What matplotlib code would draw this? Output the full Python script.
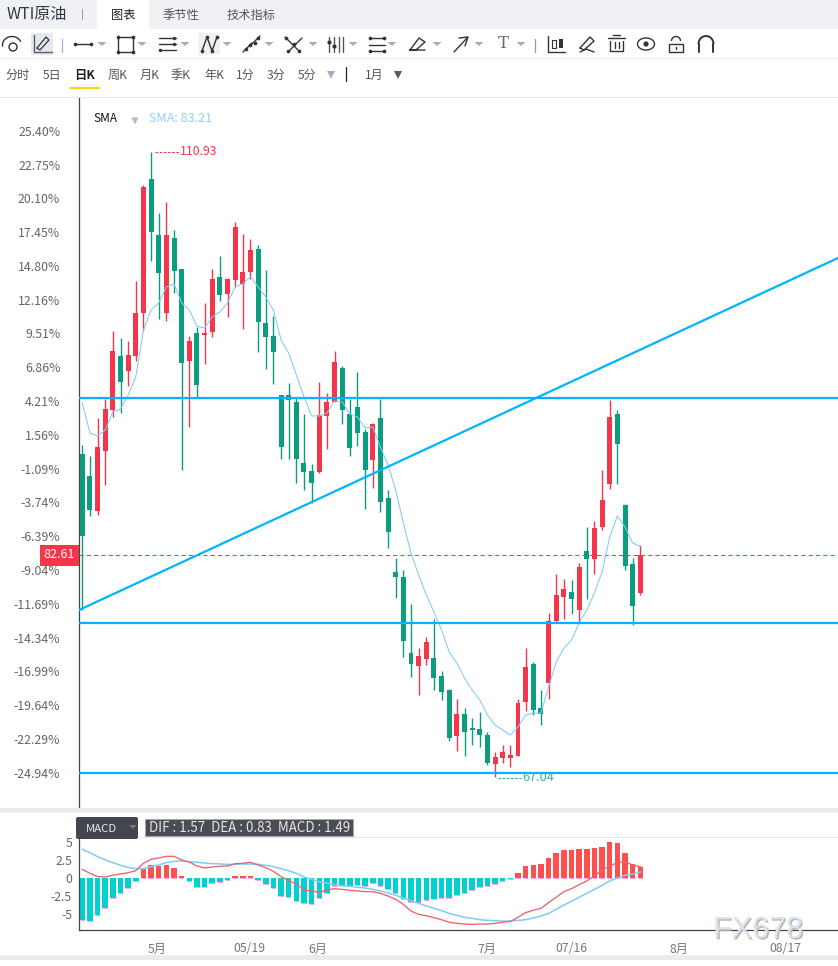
import matplotlib
matplotlib.use("Agg")
import matplotlib.pyplot as plt
import matplotlib.patheffects as pe
from matplotlib.patches import Rectangle, FancyBboxPatch, Circle, Arc, Polygon
from matplotlib.transforms import ScaledTranslation

plt.rcParams['font.family'] = ['Noto Sans CJK SC', 'DejaVu Sans']

W, H = 838, 966
RED = '#f5364a'
GREEN = '#0c9d7e'
CYAN = '#00b4ff'
SMA_BLUE = '#7fcbf8'
GREY = '#666666'

# daily candles
opens = [89.70, 88.16, 85.70, 89.91, 92.79, 96.59, 95.53, 96.59, 99.61, 109.02,
         105.09, 99.61, 104.88, 102.70, 96.24, 98.20, 98.06, 98.27, 102.14, 100.94,
         101.93, 101.65, 102.49, 104.11, 98.91, 97.99, 93.85, 93.85, 93.36, 89.07,
         88.51, 88.44, 92.37, 93.36, 95.74, 92.51, 93.00, 91.25, 89.28, 92.23,
         86.61, 81.41, 81.06, 75.72, 74.81, 75.30, 75.37, 74.10, 73.12, 69.89,
         71.43, 70.45, 70.38, 69.96, 67.92, 68.34, 68.34, 68.48, 72.28, 74.95,
         71.86, 73.61, 77.97, 79.65, 80.01, 78.74, 82.89, 82.32, 84.57, 87.59,
         92.51, 86.12, 81.97, 79.94]
highs = [90.33, 89.56, 92.23, 93.57, 98.34, 97.85, 97.64, 101.86, 108.60, 110.93,
         106.63, 107.41, 105.44, 102.70, 97.99, 98.62, 100.31, 102.70, 103.61, 102.07,
         106.00, 105.16, 104.81, 104.39, 102.63, 99.40, 93.85, 94.69, 93.64, 92.51,
         89.00, 94.76, 93.99, 96.94, 95.88, 93.57, 95.46, 91.46, 91.88, 93.57,
         87.17, 82.39, 81.55, 79.16, 76.07, 76.84, 78.11, 74.46, 73.19, 72.49,
         71.86, 71.15, 71.57, 70.17, 68.76, 69.26, 69.26, 72.49, 76.07, 75.09,
         73.12, 78.53, 81.27, 80.92, 80.85, 82.04, 84.57, 84.99, 88.58, 93.50,
         92.79, 86.19, 82.39, 83.31]
lows = [78.74, 85.35, 85.42, 87.52, 92.30, 92.58, 94.48, 96.24, 98.34, 103.26,
        99.19, 99.05, 101.01, 88.58, 91.60, 93.64, 96.03, 97.92, 100.45, 99.33,
        101.44, 98.48, 102.00, 96.87, 95.67, 94.62, 89.35, 89.35, 87.66, 87.17,
        86.26, 88.37, 90.05, 93.36, 91.81, 89.56, 90.26, 85.84, 87.31, 85.63,
        83.10, 79.58, 75.44, 74.03, 72.77, 74.88, 73.12, 72.42, 69.54, 68.83,
        68.48, 69.26, 69.12, 67.85, 67.04, 67.99, 67.71, 68.48, 71.65, 71.36,
        70.66, 72.49, 77.90, 78.11, 78.46, 77.90, 79.51, 81.27, 84.36, 87.24,
        87.59, 81.55, 77.69, 79.80]
closes = [83.94, 85.77, 90.19, 92.86, 96.94, 94.76, 96.66, 99.61, 108.46, 105.30,
          102.42, 105.09, 102.56, 96.10, 97.64, 94.55, 98.20, 102.00, 100.87, 102.00,
          105.65, 102.49, 104.03, 98.98, 97.92, 96.87, 90.19, 93.50, 89.35, 88.44,
          87.66, 92.44, 93.36, 96.17, 92.79, 90.12, 91.18, 88.58, 91.81, 86.33,
          84.22, 81.06, 76.56, 74.95, 75.51, 76.49, 73.96, 72.98, 69.75, 71.43,
          70.17, 70.31, 69.96, 67.99, 68.41, 68.76, 68.55, 72.21, 74.74, 71.72,
          71.43, 77.97, 79.80, 80.22, 79.51, 81.76, 82.32, 84.50, 86.47, 92.30,
          90.40, 81.83, 79.02, 82.61]
sma = [93.29, 91.18, 90.97, 91.39, 92.65, 92.86, 93.85, 95.11, 98.41, 99.82,
       100.31, 101.44, 101.65, 100.31, 99.82, 98.69, 98.55, 99.33, 99.68, 100.31,
       101.44, 101.65, 102.14, 101.44, 100.73, 99.82, 97.71, 96.80, 95.25, 93.71,
       92.37, 92.37, 92.58, 93.43, 93.36, 92.51, 92.30, 91.53, 91.60, 90.19,
       88.93, 87.17, 84.85, 82.75, 81.20, 79.80, 78.60, 77.34, 75.79, 75.02,
       73.96, 73.12, 72.42, 71.36, 70.66, 70.31, 69.96, 70.52, 71.36, 71.50,
       71.50, 73.33, 75.09, 76.07, 76.63, 77.83, 78.74, 79.94, 81.41, 83.87,
       85.35, 84.57, 83.45, 83.21]

# MACD panel
hist = [-5.92, -6.06, -5.26, -4.23, -2.82, -2.11, -1.41, -0.47, 1.27, 1.83,
        1.69, 1.83, 1.41, 0.28, -0.42, -1.22, -1.27, -0.70, -0.56, -0.28,
        0.28, 0.28, 0.28, -0.28, -0.89, -1.41, -2.54, -2.68, -3.24, -3.52,
        -3.62, -2.82, -2.11, -1.13, -1.03, -1.13, -0.99, -1.13, -0.70, -1.17,
        -1.55, -2.16, -2.96, -3.38, -3.43, -3.10, -2.96, -2.82, -2.86, -2.44,
        -2.16, -1.69, -1.31, -1.17, -0.85, -0.42, -0.09, 0.70, 1.69, 1.83,
        1.97, 2.82, 3.52, 3.94, 3.94, 4.08, 4.08, 4.23, 4.37, 5.07,
        4.93, 3.52, 1.97, 1.49]
dif = [1.22, 0.66, 0.19, 0.14, 0.38, 0.56, 0.75, 1.03, 2.07, 2.63,
       2.82, 3.05, 3.05, 2.54, 2.25, 1.69, 1.41, 1.55, 1.64, 1.69,
       2.02, 2.07, 2.21, 1.83, 1.46, 0.94, 0.19, -0.38, -0.85, -1.69,
       -1.83, -2.02, -1.69, -1.50, -1.60, -1.74, -1.83, -1.92, -1.92, -2.16,
       -2.54, -3.00, -3.71, -4.65, -5.12, -5.31, -5.59, -5.87, -6.24, -6.38,
       -6.48, -6.53, -6.48, -6.48, -6.38, -6.24, -6.10, -5.54, -4.88, -4.55,
       -4.27, -3.47, -2.72, -1.92, -1.50, -0.94, -0.42, 0.28, 1.13, 1.69,
       2.16, 2.30, 1.83, 1.57]
dea = [4.04, 3.57, 3.00, 2.54, 2.16, 1.78, 1.50, 1.31, 1.31, 1.60,
       1.83, 2.16, 2.35, 2.39, 2.30, 2.21, 2.11, 2.02, 1.97, 1.92,
       1.92, 1.97, 1.97, 1.92, 1.78, 1.60, 1.31, 1.03, 0.66, 0.14,
       -0.19, -0.52, -0.70, -0.94, -1.13, -1.17, -1.31, -1.41, -1.60, -1.83,
       -2.11, -2.44, -2.82, -3.19, -3.57, -3.94, -4.27, -4.60, -4.98, -5.26,
       -5.54, -5.68, -5.87, -5.96, -6.01, -6.06, -6.06, -5.96, -5.87, -5.63,
       -5.35, -4.98, -4.41, -3.80, -3.29, -2.72, -2.16, -1.60, -1.03, -0.42,
       0.00, 0.38, 0.56, 0.83]

pct_ticks = [25.40, 22.75, 20.10, 17.45, 14.80, 12.16, 9.51, 6.86, 4.21, 1.56, -1.09, -3.74,
             -6.39, -9.04, -11.69, -14.34, -16.99, -19.64, -22.29, -24.94]
base_price = 89.58
h_levels = [93.64, 77.83, 67.29]
trend_x = [-0.43, 98.86]
trend_y = [78.74, 103.47]
last_price = 82.61
date_pos = [9.8, 21.9, 30.8, 52.9, 64.0, 78.0, 92.0]
date_labels = ['5月', '05/19', '6月', '7月', '07/16', '8月', '08/17']
macd_ticks = [5, 2.5, 0, -2.5, -5]
macd_labels = ['5', '2.5', '0', '-2.5', '-5']

xlim = (-0.43, 98.86)


def px_axes(left, top, right, bottom):
    return fig.add_axes([left / W, 1 - bottom / H, (right - left) / W, (bottom - top) / H])


fig = plt.figure(figsize=(W / 100, H / 100), dpi=100, facecolor='white')
nudge_up = ScaledTranslation(0, 1 / 100, fig.dpi_scale_trans)

# price panel
ax = px_axes(79, 98, 838, 808)
ax.set_xlim(*xlim)
ax.set_ylim(64.83, 114.71)
idx = list(range(len(opens)))
for i in idx:
    col = RED if closes[i] >= opens[i] else GREEN
    ax.vlines(i, lows[i], highs[i], color=col, lw=1.0, zorder=2)
    ax.bar(i, abs(closes[i] - opens[i]), bottom=min(opens[i], closes[i]), width=0.65, color=col, lw=0, zorder=3)
ax.plot(idx, sma, color=SMA_BLUE, lw=0.75, zorder=4)
for lv in h_levels:
    ax.axhline(lv, color=CYAN, lw=1.6, zorder=5)
ax.plot(trend_x, trend_y, color=CYAN, lw=1.6, zorder=5)
ax.axhline(last_price, color=RED, lw=0.75, dashes=(4, 3), zorder=1)
ax.plot([9.5, 12.6], [110.93, 110.93], color=RED, lw=0.75, ls=(0, (2.5, 1.5)))
ax.text(12.75, 110.93, '110.93', color=RED, fontsize=8.8, va='center', ha='left')
ax.plot([54.4, 57.4], [66.95, 66.95], color='#2fae7a', lw=0.75, ls=(0, (2.5, 1.5)))
ax.text(57.5, 66.95, '67.04', color='#39b795', fontsize=9.2, va='center', ha='left')
ax.set_xticks([])
ax.set_yticks([base_price * (1 + p / 100) for p in pct_ticks])
ax.set_yticklabels([f'{p:.2f}%' for p in pct_ticks], fontsize=8.9, color=GREY)
ax.tick_params(axis='y', length=0, pad=13.5)
for lab in ax.get_yticklabels():
    lab.set_transform(lab.get_transform() + nudge_up)
for s in ['top', 'right', 'bottom']:
    ax.spines[s].set_visible(False)
ax.spines['left'].set_color('#444444')
ax.spines['left'].set_linewidth(0.9)

# MACD panel
mx = px_axes(79, 837, 838, 930)
mx.set_xlim(*xlim)
mx.set_ylim(-7.32, 5.77)
mx.bar(idx, hist, width=0.72, color=['#ff5050' if v > 0 else '#00d0d0' for v in hist], lw=0, zorder=2)
# thin pink edge at the lower end of every bar
mx.hlines([min(v, 0) for v in hist], [i - 0.36 for i in idx], [i + 0.36 for i in idx],
          color='#f7a6e6', lw=0.7, zorder=2)
mx.plot(idx, dea, color=SMA_BLUE, lw=1.1, zorder=3)
mx.plot(idx, dif, color='#f0606e', lw=0.95, zorder=3)
mx.set_xticks(date_pos)
mx.set_xticklabels(date_labels, fontsize=8.8, color='#777777')
mx.set_yticks(macd_ticks)
mx.set_yticklabels(macd_labels, fontsize=8.8, color=GREY)
mx.tick_params(axis='x', length=0, pad=9)
mx.tick_params(axis='y', length=0, pad=5)
mx.spines['right'].set_visible(False)
mx.spines['top'].set_color('#e8e8e8')
mx.spines['left'].set_color('#444444')
mx.spines['bottom'].set_color('#444444')
for s in ['left', 'bottom', 'top']:
    mx.spines[s].set_linewidth(0.9)

# everything around the panels, in picture pixels
ui = fig.add_axes([0, 0, 1, 1], zorder=10)
ui.set_xlim(0, W)
ui.set_ylim(H, 0)
ui.axis('off')
ui.patch.set_alpha(0)


def rect(x0, y0, x1, y1, color, z=1):
    ui.add_patch(Rectangle((x0, y0), x1 - x0, y1 - y0, fc=color, ec='none', zorder=z))


def seg(xs, ys, color='#333333', lw=1.0):
    ui.plot(xs, ys, color=color, lw=lw, solid_capstyle='round', zorder=3)


def dots(xs, ys, color='#333333', s=7):
    ui.scatter(xs, ys, s=s, color=color, lw=0, zorder=4)


def tri(x, y, color='#a9abb8', w=4.5, h=4):
    ui.add_patch(Polygon([(x - w, y - h / 2), (x + w, y - h / 2), (x, y + h / 2)], fc=color, ec='none', zorder=3))


# tab bar
rect(0, 0, W, 29, '#f0f1f5')
rect(97, 0, 149, 29, 'white', 2)
ui.text(7, 14.5, 'WTI原油', fontsize=11.5, color='#333a45', va='center', zorder=3)
seg([82, 82], [9, 19], '#9aa0aa', 0.8)
ui.text(123, 15, '图表', fontsize=8.8, color='#222222', va='center', ha='center', zorder=3)
ui.text(181, 15, '季节性', fontsize=8.8, color='#555555', va='center', ha='center', zorder=3)
ui.text(251, 15, '技术指标', fontsize=8.8, color='#555555', va='center', ha='center', zorder=3)

# separators
rect(0, 58, W, 59, '#f0f0f0')
rect(0, 97, W, 98, '#e8e8e8')
rect(0, 808, W, 813, '#ebebeb')
rect(0, 955, W, 960, '#ebebeb')

# toolbar icons
ui.add_patch(Arc((12, 45), 19, 17, theta1=170, theta2=340, ec='#333333', lw=1.0, zorder=3))
ui.add_patch(Circle((13, 47), 4, fc='none', ec='#333333', lw=1.0, zorder=3))
ui.add_patch(FancyBboxPatch((33, 35), 18, 18, boxstyle='round,pad=2', fc='#e6e8ef', ec='none', zorder=2))
seg([34, 34, 52], [35, 52, 52], '#555a66', 1.0)
seg([37, 46, 49, 40, 37], [48, 37, 40, 50, 48], '#333333', 0.9)
seg([62, 62], [39, 52], '#b9a7c8', 0.9)
seg([74, 92], [44, 44])
dots([75, 91], [44, 44])
tri(102, 44)
ui.add_patch(Rectangle((118, 37), 15, 15, fc='none', ec='#333333', lw=1.0, zorder=3))
dots([118, 133, 118, 133], [37, 37, 52, 52])
tri(142, 44)
for yy in [38, 44, 50]:
    seg([159, 176], [yy, yy])
dots([174, 174, 160], [38, 44, 50], s=6)
tri(185, 44)
ui.add_patch(FancyBboxPatch((200, 35), 18, 18, boxstyle='round,pad=2', fc='#f0f0f2', ec='none', zorder=2))
seg([202, 207, 212, 217], [51, 37, 51, 37])
dots([202, 207, 212, 217], [51, 37, 51, 37])
tri(227, 44)
seg([243, 252], [52, 43])
seg([251, 260], [45, 36])
dots([246, 250, 255, 258], [49, 45, 43, 38])
tri(269, 44)
seg([285, 299], [37, 51])
seg([289, 302], [51, 38])
dots([286, 294, 288, 299], [38, 44, 51, 51])
tri(313, 44)
for xx in [329, 334, 339, 343]:
    seg([xx, xx], [37, 52], '#555555')
dots([329, 334], [42, 46], s=9)
tri(353, 44)
for yy in [38, 45, 51]:
    seg([369, 385], [yy, yy])
dots([370, 384, 370, 384], [38, 38, 51, 51])
tri(392, 44)
seg([410, 419, 425, 416, 410, 425], [50, 38, 42, 50, 50, 50])
tri(437, 44)
seg([454, 467], [52, 38])
seg([459, 468, 465], [38, 37, 46])
tri(479, 44)
ui.text(503, 44, 'T', fontsize=12, family='DejaVu Serif', color='#666666', va='center', ha='center', zorder=3)
tri(521, 44)
seg([535, 535], [39, 52], '#8aa0a0', 0.9)
seg([548, 548, 565], [36, 52, 52])
ui.add_patch(Rectangle((552, 40), 4, 8, fc='white', ec='#333333', lw=0.8, zorder=3))
rect(559, 39, 563, 48, '#333333', 3)
seg([580, 590, 594, 584, 580], [48, 37, 41, 50, 48])
seg([580, 586, 594], [52, 49, 52])
seg([608, 625], [38, 38])
seg([613, 620], [35, 35])
seg([610, 610, 623, 623], [41, 51, 51, 41])
seg([615, 615], [42, 48])
seg([619, 619], [42, 48])
ui.add_patch(Arc((646, 44), 17, 12, fc='none', ec='#333333', lw=1.0, zorder=3))
ui.add_patch(Circle((646, 44), 2.6, fc='#333333', ec='none', zorder=3))
ui.add_patch(Rectangle((669, 44), 14, 8, fc='none', ec='#333333', lw=1.0, zorder=3))
ui.add_patch(Arc((676, 41), 9, 9, theta1=180, theta2=360, ec='#333333', lw=1.0, zorder=3))
seg([676, 676], [47, 49])
ui.add_patch(Arc((706, 44), 15, 16, theta1=180, theta2=360, ec='#333333', lw=1.4, zorder=3))
seg([699, 699], [44, 52], '#333333', 1.4)
seg([713, 713], [44, 52], '#333333', 1.4)

# period row
periods = ['分时', '5日', '周K', '月K', '季K', '年K', '1分', '3分', '5分', '1月']
period_x = [18, 52, 118, 150, 181, 214, 245, 276, 307, 374]
for t, xx in zip(periods, period_x):
    ui.text(xx, 75, t, fontsize=8.7, color='#555555', va='center', ha='center', zorder=3)
ui.text(84.5, 75, '日K', fontsize=8.9, color='#222222', fontweight='bold', va='center', ha='center', zorder=3)
rect(70, 87, 100, 89, '#f5d800', 3)
tri(331, 75, '#a9abc4', 4, 8)
seg([346, 346], [67, 81], '#222222', 0.9)
tri(398, 75, '#555a66', 4, 8)

# indicator legend
ui.text(93, 118, 'SMA', fontsize=8.5, color='#111111', va='center', zorder=3)
tri(135, 121, '#b4b6c4', 3.5, 7)
ui.text(149, 118, 'SMA: 83.21', fontsize=9.1, color='#92d0fa', va='center', zorder=3)

# last price tag
rect(40, 545, 79, 566, RED, 3)
ui.text(59.5, 555, '82.61', fontsize=9, color='white', va='center', ha='center', zorder=4)

# MACD caption boxes
ui.add_patch(FancyBboxPatch((78, 819), 58, 18, boxstyle='round,pad=2', fc='#43464e', ec='none', zorder=3))
ui.text(86, 828.5, 'MACD', fontsize=8.2, color='#e8e8e8', va='center', zorder=4)
tri(133, 827, '#777a82', 3.5, 4)
ui.add_patch(Rectangle((145, 819), 208, 17, fc='#4a4d55', ec='#aaaaaa', lw=0.6, zorder=3))
ui.text(149, 828, 'DIF : 1.57  DEA : 0.83  MACD : 1.49', fontsize=9.6, color='#e6e6e6', va='center', zorder=4)

# watermark
ui.text(758, 938, 'FX678', fontsize=22, family='Liberation Sans', color='#d6e4f4', va='baseline', ha='center', zorder=6,
        path_effects=[pe.SimplePatchShadow(offset=(1, -1), shadow_rgbFace='#c4b4a0', alpha=1), pe.Normal()])

fig.savefig('out.png', dpi=100)
